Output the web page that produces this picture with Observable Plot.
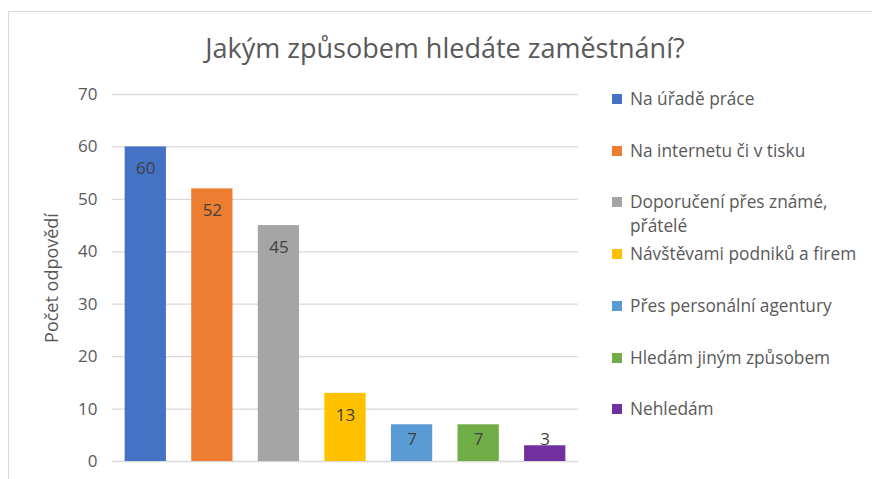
<!DOCTYPE html>
<html>
<head>
<meta charset="utf-8">
<script src="https://cdn.jsdelivr.net/npm/d3@7"></script>
<script src="https://cdn.jsdelivr.net/npm/@observablehq/plot@0.6"></script>
<style>
  html, body { margin: 0; padding: 0; background: #fff; width: 872px; height: 479px; overflow: hidden; }
  body { position: relative; font-family: "Open Sans", sans-serif; }
  #frame { position: absolute; left: 8px; top: 11px; width: 900px; height: 500px; border: 1.5px solid #d9d9d9; box-sizing: border-box; }
  #title { position: absolute; left: 0; width: 890px; top: 29px; text-align: center; font-size: 27px; color: #595959; line-height: 38px; }
  #chart { position: absolute; left: 0; top: 0; }
  #legend { position: absolute; left: 0; top: 0; }
  .li { position: absolute; left: 612px; font-size: 17.3px; color: #595959; line-height: 24px; white-space: nowrap; }
  .sw { position: absolute; left: 0; top: 7px; width: 10px; height: 10px; }
  .lt { position: absolute; left: 18px; top: 0; }
</style>
</head>
<body>
<div id="frame"></div>
<div id="title">Jakým způsobem hledáte zaměstnání?</div>
<div id="chart"></div>
<div id="legend"></div>
<script>
const categories = [
  "Na úřadě práce",
  "Na internetu či v tisku",
  "Doporučení přes známé, přátelé",
  "Návštěvami podniků a firem",
  "Přes personální agentury",
  "Hledám jiným způsobem",
  "Nehledám"
];
const values = [60, 52, 45, 13, 7, 7, 3];
const colors = ["#4472C4", "#ED7D31", "#A5A5A5", "#FFC000", "#5B9BD5", "#70AD47", "#7030A0"];
const yTicks = [0, 10, 20, 30, 40, 50, 60, 70];
const yLabel = "Počet odpovědí";

const data = categories.map((c, i) => ({ category: c, value: values[i] }));

const plot = Plot.plot({
  width: 590,
  height: 479,
  marginTop: 94,
  marginBottom: 18,
  marginLeft: 112,
  marginRight: 12,
  style: { fontFamily: "Open Sans, sans-serif", fontSize: "16.5px", color: "#595959", background: "transparent" },
  x: { domain: categories, paddingInner: 0.38, paddingOuter: 0.19, round: false, axis: null },
  y: { domain: [0, 70], ticks: yTicks, label: null },
  color: { domain: categories, range: colors },
  marks: [
    Plot.gridY(yTicks, { stroke: "#d9d9d9", strokeOpacity: 1, strokeWidth: 1.3 }),
    Plot.axisY(yTicks, { tickSize: 0, tickPadding: 15, fill: "#595959", fontSize: 17, label: null }),
    Plot.barY(data, { x: "category", y: "value", fill: "category" }),
    Plot.text(data, {
      x: "category",
      y: d => Math.max(d.value - 4.2, 4.1),
      text: d => String(d.value),
      fill: "#404040",
      fontSize: 17
    }),
    Plot.text([yLabel], {
      frameAnchor: "left",
      textAnchor: "middle",
      dx: -60,
      rotate: -90,
      text: d => d,
      fill: "#595959",
      fontSize: 18
    })
  ]
});
document.getElementById("chart").appendChild(plot);

const legend = document.getElementById("legend");
categories.forEach((c, i) => {
  const item = document.createElement("div");
  item.className = "li";
  item.style.top = (99 + i * 51.7 - 12) + "px";
  const sw = document.createElement("div");
  sw.className = "sw";
  sw.style.background = colors[i];
  const t = document.createElement("div");
  t.className = "lt";
  const parts = c.split(", ");
  parts.forEach((p, j) => {
    if (j > 0) t.appendChild(document.createElement("br"));
    t.appendChild(document.createTextNode(p + (j < parts.length - 1 ? "," : "")));
  });
  item.appendChild(sw);
  item.appendChild(t);
  legend.appendChild(item);
});
</script>
</body>
</html>
